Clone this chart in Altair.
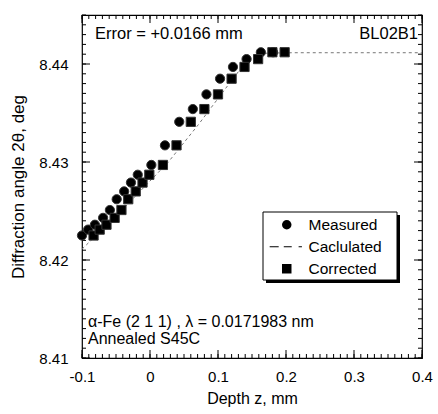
import altair as alt
import pandas as pd

# ---- data ----
measured_z = [-0.100, -0.091, -0.081, -0.069, -0.059, -0.049, -0.038, -0.028, -0.018,
              0.002, 0.022, 0.043, 0.063, 0.083, 0.103, 0.122, 0.142, 0.163, 0.181]
measured_theta = [8.4225, 8.4231, 8.4236, 8.4243, 8.4251, 8.4262, 8.4270, 8.4279, 8.4287,
                  8.4297, 8.4317, 8.4341, 8.4354, 8.4369, 8.4385, 8.4397, 8.4405, 8.4412, 8.4412]
corrected_z = [-0.083, -0.074, -0.064, -0.052, -0.042, -0.032, -0.021, -0.011, -0.001,
               0.019, 0.039, 0.060, 0.080, 0.100, 0.120, 0.139, 0.159, 0.180, 0.198]
corrected_theta = [8.4225, 8.4231, 8.4236, 8.4243, 8.4251, 8.4262, 8.4270, 8.4279, 8.4287,
                   8.4297, 8.4317, 8.4341, 8.4354, 8.4369, 8.4385, 8.4397, 8.4405, 8.4412, 8.4412]
calc_z = [-0.100, -0.037, 0.027, 0.071, 0.110, 0.132, 0.152, 0.169, 0.210, 0.400]
calc_theta = [8.4211, 8.4254, 8.4300, 8.4338, 8.4374, 8.4394, 8.4407, 8.4411, 8.44115, 8.44115]

series_names = ["Measured", "Caclulated", "Corrected"]
x_ticks = [-0.1, 0.0, 0.1, 0.2, 0.3, 0.4]
y_ticks = [8.41, 8.42, 8.43, 8.44]
x_minor = [round(-0.1 + i * 0.01, 3) for i in range(51)]
y_minor = [round(8.41 + i * 0.001, 4) for i in range(36)]

W, H = 340, 343
FONT = "Liberation Sans"

pts = pd.DataFrame({
    "z": measured_z + corrected_z,
    "theta": measured_theta + corrected_theta,
    "series": ["Measured"] * len(measured_z) + ["Corrected"] * len(corrected_z),
})
calc = pd.DataFrame({"z": calc_z, "theta": calc_theta})

xscale = alt.Scale(domain=[-0.1, 0.4], nice=False, zero=False)
yscale = alt.Scale(domain=[8.41, 8.445], nice=False, zero=False)

x_axis = alt.Axis(values=x_ticks, ticks=False, tickSize=0, domain=False, grid=False,
                  labelFlush=False, labelFontSize=15, labelPadding=11, labelColor="black",
                  labelExpr="datum.value == 0 ? '0' : (datum.value < 0 ? '-' : '') + format(abs(datum.value), '.1f')",
                  title="Depth z, mm", titleFontSize=16, titleFontWeight="normal",
                  titlePadding=6, titleColor="black")
y_axis = alt.Axis(values=y_ticks, ticks=False, tickSize=0, domain=False, grid=False,
                  labelFlush=False, format=".2f", labelFontSize=15, labelPadding=14,
                  labelColor="black",
                  title="Diffraction angle 2θ, deg", titleFontSize=17,
                  titleFontWeight="normal", titlePadding=11, titleColor="black")

# legend symbol for the calculated curve: three short filled dashes
dash_path = ("M-3.6,-0.11H-1.7V0.11H-3.6Z"
             "M-0.63,-0.11H1.05V0.11H-0.63Z"
             "M2.5,-0.11H3.2V0.11H2.5Z")

line = alt.Chart(calc).mark_line(color="#777777", strokeDash=[3, 3], strokeWidth=1).encode(
    x=alt.X("z:Q", scale=xscale, axis=x_axis),
    y=alt.Y("theta:Q", scale=yscale, axis=y_axis),
)

legend = alt.Legend(
    title=None, orient="none", legendX=181, legendY=197,
    padding=5, rowPadding=5, symbolOffset=11, labelOffset=14,
    labelFontSize=15.5, labelColor="black",
    symbolSize=90, symbolFillColor="black",
    symbolStrokeColor="#333333", symbolStrokeWidth=1,
)

points = alt.Chart(pts).mark_point(filled=True, opacity=1, fill="black", stroke="#333333",
                                   strokeWidth=1, size=85).encode(
    x=alt.X("z:Q", scale=xscale, axis=x_axis),
    y=alt.Y("theta:Q", scale=yscale, axis=y_axis),
    shape=alt.Shape("series:N",
                    scale=alt.Scale(domain=series_names, range=["circle", dash_path, "square"]),
                    legend=legend),
)

# legend frame with drop shadow
one = pd.DataFrame({"a": [0]})
shadow = alt.Chart(one).mark_rect(color="black").encode(
    x=alt.value(184), x2=alt.value(318), y=alt.value(200), y2=alt.value(268))
frame = alt.Chart(one).mark_rect(fill="white", stroke="black", strokeWidth=1).encode(
    x=alt.value(181), x2=alt.value(315), y=alt.value(197), y2=alt.value(265))

def tick_layer(vals, orient, length):
    df = pd.DataFrame({"v": vals})
    base = alt.Chart(df).mark_rule(color="black", strokeWidth=1)
    if orient == "left":
        return base.encode(y=alt.Y("v:Q", scale=yscale, axis=y_axis), x=alt.value(0), x2=alt.value(length))
    if orient == "right":
        return base.encode(y=alt.Y("v:Q", scale=yscale, axis=y_axis), x=alt.value(W - length), x2=alt.value(W))
    if orient == "bottom":
        return base.encode(x=alt.X("v:Q", scale=xscale, axis=x_axis), y=alt.value(H - length), y2=alt.value(H))
    return base.encode(x=alt.X("v:Q", scale=xscale, axis=x_axis), y=alt.value(0), y2=alt.value(length))

ticks = []
for o in ["left", "right"]:
    ticks.append(tick_layer(y_ticks, o, 8))
    ticks.append(tick_layer(y_minor, o, 4))
for o in ["bottom", "top"]:
    ticks.append(tick_layer(x_ticks, o, 8))
    ticks.append(tick_layer(x_minor, o, 4))

def label(text, x, y, align="left", size=16.5):
    return alt.Chart(pd.DataFrame({"t": [text]})).mark_text(
        align=align, baseline="alphabetic", fontSize=size, font=FONT, color="black"
    ).encode(text="t:N", x=alt.value(x), y=alt.value(y))

texts = [
    label("Error = +0.0166 mm", 13, 24),
    label("BL02B1", 336, 24, align="right"),
    label("α-Fe (2 1 1) , λ = 0.0171983 nm", 6, 312, size=16),
    label("Annealed S45C", 6, 329, size=16),
]

chart = alt.layer(line, *ticks, shadow, frame, points, *texts).properties(
    width=W, height=H,
    autosize=alt.AutoSizeParams(type="none"),
    padding={"left": 82, "top": 15, "right": 16, "bottom": 56},
).configure(font=FONT).configure_view(stroke="black", strokeWidth=1.2)

chart.save("out.html", embed_options={"renderer": "svg", "actions": False})
